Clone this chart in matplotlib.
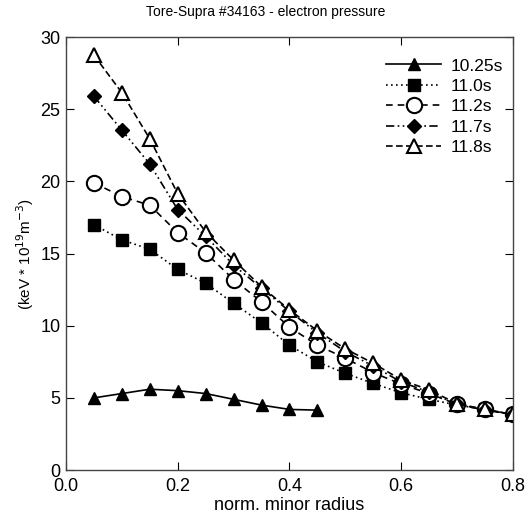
import matplotlib
matplotlib.use('Agg')
import matplotlib.pyplot as plt

plt.rcParams['font.family'] = ['Liberation Sans', 'DejaVu Sans']

# norm. minor radius
r_short = [0.05, 0.10, 0.15, 0.20, 0.25, 0.30, 0.35, 0.40, 0.45]
r_full = [0.05, 0.10, 0.15, 0.20, 0.25, 0.30, 0.35, 0.40,
          0.45, 0.50, 0.55, 0.60, 0.65, 0.70, 0.75, 0.80]

# electron pressure (keV * 1e19 m^-3)
p_1025 = [5.0, 5.3, 5.6, 5.5, 5.3, 4.9, 4.5, 4.2, 4.15]
p_1100 = [17.0, 15.95, 15.3, 13.9, 12.95, 11.55, 10.2, 8.65,
          7.5, 6.7, 6.0, 5.35, 4.9, 4.5, 4.2, 3.85]
p_1120 = [19.9, 18.95, 18.35, 16.45, 15.05, 13.2, 11.65, 9.9,
          8.65, 7.75, 6.75, 5.95, 5.3, 4.55, 4.2, 3.85]
p_1170 = [25.9, 23.55, 21.2, 18.05, 16.2, 14.2, 12.6, 11.0,
          9.5, 8.2, 7.2, 6.1, 5.4, 4.55, 4.15, 3.85]
p_1180 = [28.75, 26.15, 22.95, 19.15, 16.5, 14.55, 12.7, 11.1,
          9.65, 8.4, 7.4, 6.25, 5.55, 4.6, 4.2, 3.85]

labels = ['10.25s', '11.0s', '11.2s', '11.7s', '11.8s']

fig = plt.figure(figsize=(5.31, 5.16), dpi=100)
ax = fig.add_axes([0.1243, 0.0891, 0.8417, 0.8389])

ax.plot(r_short, p_1025, color='black', lw=1.2, ls='-', marker='^',
        ms=9, mfc='black', mec='black', label=labels[0])
ax.plot(r_full, p_1100, color='black', lw=1.2, ls=(0, (1, 2)), marker='s',
        ms=8, mfc='black', mec='black', label=labels[1])
ax.plot(r_full, p_1120, color='black', lw=1.2, ls=(0, (4, 3)), marker='o',
        ms=11, mfc='white', mec='black', mew=1.5, label=labels[2])
ax.plot(r_full, p_1170, color='black', lw=1.2, ls=(0, (5, 2, 1, 2, 1, 2)), marker='D',
        ms=7, mfc='black', mec='black', label=labels[3])
ax.plot(r_full, p_1180, color='black', lw=1.2, ls=(0, (4, 2)), marker='^',
        ms=10, mfc='white', mec='black', mew=1.5, label=labels[4])

ax.set_xlim(0, 0.8)
ax.set_ylim(0, 30)
ax.set_xticks([0.0, 0.2, 0.4, 0.6, 0.8])
ax.set_yticks([0, 5, 10, 15, 20, 25, 30])
ax.tick_params(direction='in', top=True, right=True, length=6,
               labelsize=13)
ax.tick_params(axis='x', pad=6)
ax.tick_params(axis='y', pad=4)
for s in ax.spines.values():
    s.set_color('#444444')
    s.set_linewidth(1.0)

ax.set_xlabel('norm. minor radius', fontsize=13, labelpad=1)
ax.set_ylabel(r'(keV * 10$^{19}$m$^{-3}$)', fontsize=11, labelpad=3)
fig.suptitle('Tore-Supra #34163 - electron pressure', fontsize=10, y=0.99)

ax.legend(loc='upper right', bbox_to_anchor=(1.0, 0.975), frameon=False,
          fontsize=12.5, handlelength=3.2, handletextpad=0.5, labelspacing=0.3,
          borderaxespad=0.2)

fig.savefig('out.png', dpi=100)
